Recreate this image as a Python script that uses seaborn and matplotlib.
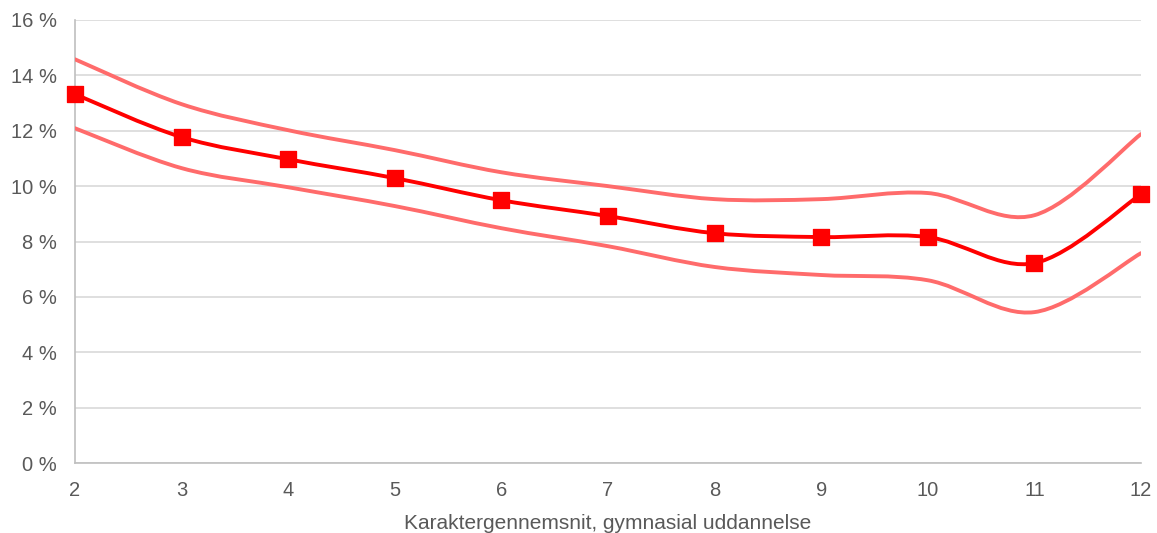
import numpy as np
import pandas as pd
import seaborn as sns
import matplotlib.pyplot as plt
from matplotlib.path import Path
from matplotlib.patches import PathPatch
from matplotlib.ticker import FuncFormatter

grades = [2, 3, 4, 5, 6, 7, 8, 9, 10, 11, 12]
estimate = [13.32, 11.77, 10.97, 10.29, 9.49, 8.92, 8.30, 8.16, 8.16, 7.22, 9.71]
upper = [14.58, 12.96, 12.02, 11.30, 10.50, 10.00, 9.53, 9.53, 9.75, 8.95, 11.88]
lower = [12.09, 10.65, 9.96, 9.28, 8.48, 7.83, 7.08, 6.79, 6.60, 5.45, 7.58]

df = pd.DataFrame({'grade': grades, 'estimate': estimate})

sns.set_style('white')
plt.rcParams['font.family'] = ['Liberation Sans', 'DejaVu Sans']

fig = plt.figure(figsize=(11.57, 5.33), dpi=100)
ax = fig.add_axes([0.0648, 0.1313, 0.9214, 0.8312])


def smooth_path(xs, ys):
    # excel-like smoothed line: cubic bezier segments through the data points
    pts = np.column_stack([xs, ys]).astype(float)
    n = len(pts)
    verts = [pts[0]]
    codes = [Path.MOVETO]
    for i in range(n - 1):
        p0 = pts[i - 1] if i > 0 else pts[i]
        p1 = pts[i]
        p2 = pts[i + 1]
        p3 = pts[i + 2] if i + 2 < n else pts[i + 1]
        c1 = p1 + (p2 - p0) / 6
        c2 = p2 - (p3 - p1) / 6
        verts += [c1, c2, p2]
        codes += [Path.CURVE4] * 3
    return Path(verts, codes)


for ys, col in [(upper, '#ff6b6b'), (lower, '#ff6b6b'), (estimate, '#ff0000')]:
    ax.add_patch(PathPatch(smooth_path(grades, ys), facecolor='none', edgecolor=col,
                           lw=2.8, capstyle='round', joinstyle='round', zorder=3))

sns.scatterplot(data=df, x='grade', y='estimate', marker='s', s=140, color='#ff0000',
                edgecolor='#ff0000', ax=ax, zorder=4, clip_on=False)

ax.set_xlim(2, 12)
ax.set_ylim(0, 16)
ax.set_xticks(grades)
ax.set_yticks(range(0, 17, 2))
ax.yaxis.set_major_formatter(FuncFormatter(lambda v, p: f'{int(v)} %'))
ax.grid(axis='y', color='#d9d9d9', lw=1.2)
ax.set_axisbelow(True)
for s in ['top', 'right']:
    ax.spines[s].set_visible(False)
for s in ['left', 'bottom']:
    ax.spines[s].set_color('#bfbfbf')
    ax.spines[s].set_linewidth(1.2)
ax.tick_params(axis='y', length=0, labelsize=14.5, labelcolor='#595959', pad=13)
ax.tick_params(axis='x', length=0, labelsize=14.5, labelcolor='#595959', pad=13)
ax.set_xlabel('Karaktergennemsnit, gymnasial uddannelse', fontsize=15, color='#595959', labelpad=10)
ax.set_ylabel('')

fig.savefig('out.png', dpi=100)
